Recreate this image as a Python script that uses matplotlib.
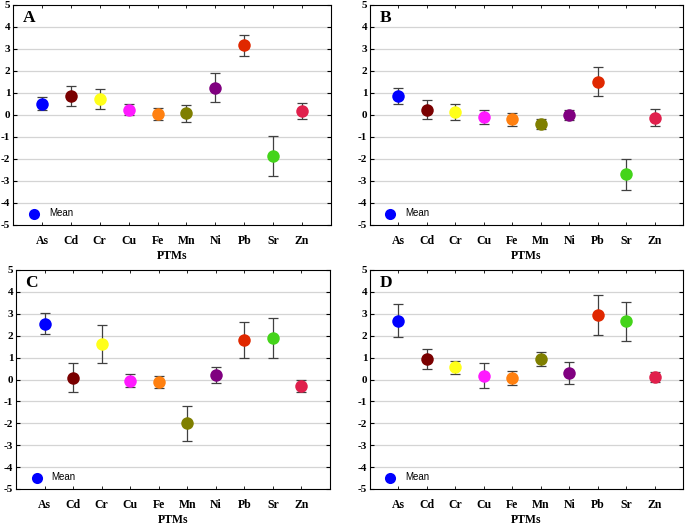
import numpy as np
import matplotlib.pyplot as plt

elements = ['As', 'Cd', 'Cr', 'Cu', 'Fe', 'Mn', 'Ni', 'Pb', 'Sr', 'Zn']
colors = ['#0000ff', '#7a0000', '#ffff1a', '#ff1aff', '#ff8010', '#7f7f00',
          '#800080', '#e02800', '#44d41a', '#e0204c']

mean_a = [0.52, 0.88, 0.73, 0.25, 0.05, 0.07, 1.25, 3.17, -1.85, 0.17]
err_a = [0.30, 0.45, 0.45, 0.26, 0.28, 0.38, 0.66, 0.48, 0.90, 0.36]

mean_b = [0.87, 0.25, 0.14, -0.08, -0.20, -0.39, 0.02, 1.51, -2.70, -0.12]
err_b = [0.36, 0.45, 0.38, 0.33, 0.28, 0.23, 0.23, 0.65, 0.70, 0.38]

mean_c = [2.55, 0.09, 1.62, -0.05, -0.11, -2.00, 0.21, 1.82, 1.89, -0.29]
err_c = [0.49, 0.66, 0.85, 0.29, 0.29, 0.80, 0.36, 0.82, 0.90, 0.27]

mean_d = [2.68, 0.94, 0.56, 0.18, 0.09, 0.94, 0.29, 2.95, 2.65, 0.12]
err_d = [0.76, 0.46, 0.29, 0.58, 0.32, 0.31, 0.50, 0.92, 0.91, 0.22]

panels = [('A', mean_a, err_a), ('B', mean_b, err_b),
          ('C', mean_c, err_c), ('D', mean_d, err_d)]

W, H = 685, 527
# axes boxes in pixels: left, top, right, bottom
boxes = [(13, 5, 331, 225), (370, 5, 683, 225),
         (16, 270, 330, 489), (370, 270, 683, 489)]

fig = plt.figure(figsize=(W / 100, H / 100), dpi=100)
serif = 'Liberation Serif'
sans = 'Liberation Sans'

x = np.arange(1, len(elements) + 1)
for (letter, means, errs), (l, t, r, b) in zip(panels, boxes):
    ax = fig.add_axes([l / W, 1 - b / H, (r - l) / W, (b - t) / H])
    for yv in range(-4, 5):
        ax.axhline(yv, color='#d4d4d4', lw=0.9, zorder=0)
    for xi, m, e, c in zip(x, means, errs, colors):
        ax.errorbar(xi, m, yerr=e, fmt='none', ecolor='#404040', elinewidth=0.9,
                    capsize=3.5, capthick=0.9, zorder=2)
        ax.plot(xi, m, 'o', color=c, markersize=9, markeredgewidth=0, zorder=3)
    ax.set_xlim(0, 11)
    ax.set_ylim(-5, 5)
    ax.set_yticks(range(-5, 6))
    ax.set_xticks(x)
    ax.set_xticklabels(elements, fontfamily=serif, fontweight='bold', fontsize=8.5)
    ax.set_yticklabels([str(v) for v in range(-5, 6)], fontfamily=serif,
                       fontweight='bold', fontsize=8)
    ax.tick_params(axis='y', direction='in', length=3, width=0.8, right=True, pad=2)
    ax.tick_params(axis='x', direction='in', length=2, width=0.6, top=True, pad=7)
    for s in ax.spines.values():
        s.set_linewidth(0.8)
    ax.set_xlabel('PTMs', fontfamily=serif, fontweight='bold', fontsize=8.5, labelpad=2.5)
    ax.text(0.03, 0.975, letter, transform=ax.transAxes, ha='left', va='top',
            fontfamily=serif, fontweight='bold', fontsize=12.5)
    ax.plot(0.72, -4.5, 'o', color='#0000ff', markersize=8, markeredgewidth=0)
    ax.text(1.25, -4.47, 'Mean', fontfamily=sans, fontsize=7, va='center', ha='left')

fig.savefig('out.png', dpi=100)
